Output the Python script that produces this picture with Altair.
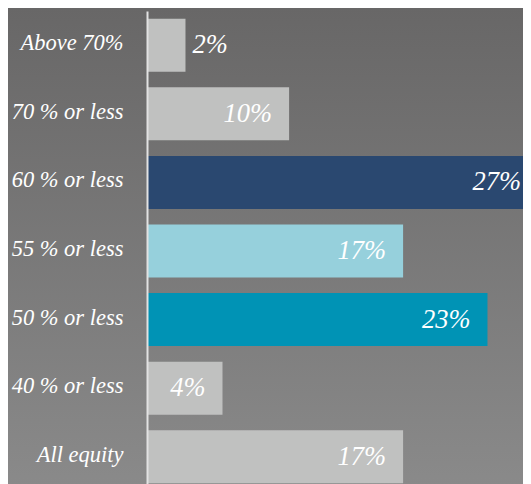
import altair as alt
import pandas as pd

categories = ["Above 70%", "70 % or less", "60 % or less", "55 % or less",
              "50 % or less", "40 % or less", "All equity"]
values = [2.6, 9.6, 27.0, 17.3, 23.0, 5.1, 17.3]
labels = ["2%", "10%", "27%", "17%", "23%", "4%", "17%"]
colors = ["#c0c1c0", "#c0c1c0", "#2a4870", "#96d0dc", "#0093b5", "#c0c1c0", "#c0c1c0"]
inside = [False, True, True, True, True, True, True]

df = pd.DataFrame({"cat": categories, "value": values, "label": labels, "inside": inside})

W, H = 376, 480
XMAX = 25.4
FONT = "Liberation Serif"

y_enc = alt.Y("cat:N", sort=categories,
              scale=alt.Scale(paddingInner=0.227, paddingOuter=0.1135),
              axis=alt.Axis(title=None, domain=True, domainColor="#e2e2e2", domainWidth=2,
                            ticks=False, grid=False, labelFont=FONT, labelFontStyle="italic",
                            labelFontSize=22.5, labelColor="#ffffff", labelPadding=24,
                            labelAlign="right", labelBaseline="middle", labelOffset=-2,
                            zindex=2))
x_enc = alt.X("value:Q", scale=alt.Scale(domain=[0, XMAX], nice=False, zero=True, clamp=True),
              axis=None)

bg = alt.Chart(alt.Data(values=[{}])).mark_rect(
    fill=alt.LinearGradient(gradient="linear",
                            stops=[alt.GradientStop(offset=0, color="#686767"),
                                   alt.GradientStop(offset=1, color="#8a8a8a")],
                            x1=0, x2=0, y1=0, y2=1)
).encode(x=alt.value(-139), x2=alt.value(W), y=alt.value(-3), y2=alt.value(H))

bars = alt.Chart(df).mark_bar().encode(
    x=x_enc, y=y_enc,
    color=alt.Color("cat:N", scale=alt.Scale(domain=categories, range=colors), legend=None),
)

txt_in = alt.Chart(df).transform_filter("datum.inside").transform_calculate(
    lx=f"min(datum.value - 17/14.8, {XMAX} - 2/14.8)"
).mark_text(
    align="right", baseline="middle", font=FONT, fontStyle="italic",
    fontSize=26.5, color="#ffffff"
).encode(x=alt.X("lx:Q"), y=alt.Y("cat:N", sort=categories), text="label:N")

txt_out = alt.Chart(df).transform_filter("!datum.inside").mark_text(
    align="left", baseline="middle", dx=7, font=FONT, fontStyle="italic",
    fontSize=26.5, color="#ffffff"
).encode(x=alt.X("value:Q"), y=alt.Y("cat:N", sort=categories), text="label:N")

chart = alt.layer(bg, bars, txt_in, txt_out).properties(
    width=W, height=H,
    padding={"left": 139, "top": 3, "right": 0, "bottom": 0},
    autosize=alt.AutoSizeParams(type="none"),
    background="#7a7a7a",
).configure_view(stroke=None)

chart.save("out.html", embed_options={"renderer": "svg", "actions": False})
